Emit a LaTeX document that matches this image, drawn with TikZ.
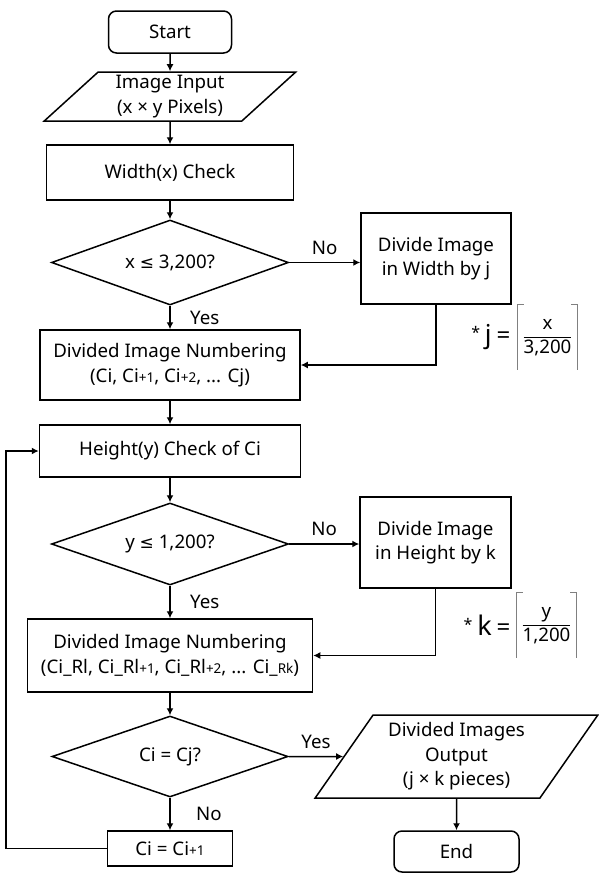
\documentclass[tikz,border=0pt]{standalone}
\usepackage{fontspec}
\setmainfont{Noto Sans}
\newfontfamily\symfont{DejaVu Sans}
\usepackage{amsmath}
\usetikzlibrary{arrows.meta,shapes.geometric,calc,positioning}
\tikzstyle{startstop} = [rectangle, rounded corners=8pt, draw=black, line width=1.5pt, inner sep=0pt, text centered]
\tikzstyle{io} = [trapezium, trapezium stretches=true, draw=black, line width=1.5pt, inner sep=0pt, align=center]
\tikzstyle{process} = [rectangle, draw=black, line width=1.5pt, inner sep=0pt, align=center]
\tikzstyle{decision} = [diamond, aspect=2.8, draw=black, line width=1.5pt, inner sep=0pt, text centered]
\tikzstyle{arrow} = [line width=1.5pt, -{Latex[length=7pt,width=7pt]}]
\tikzstyle{bracket} = [gray, line width=0.9pt]
\tikzstyle{fracbox} = [inner sep=0pt, minimum width=59pt, minimum height=65pt]
\newcommand{\smallpart}[1]{{\fontsize{13.5}{13.5}\selectfont #1}}
\newcommand{\leqsym}{{\symfont\fontsize{17}{17}\selectfont ≤}}

\begin{document}
\begin{tikzpicture}[x=1pt, y=-1pt, font=\fontsize{18.7}{24.5}\selectfont]
            \useasboundingbox (0,0) rectangle (598,873);

            % main column
            \node[startstop, minimum width=123pt, minimum height=42pt] (Start) at (170,32) {Start};
            \node[io, trapezium left angle=46, trapezium right angle=134, minimum width=252pt, minimum height=49pt] (Input) at (170,96.5) {Image Input\\(x × y Pixels)};
            \node[process, minimum width=247pt, minimum height=55pt] (WidthChk) at (170,172.5) {Width(x) Check};
            \node[decision, minimum width=237pt, minimum height=85pt] (WidthDec) at (170,262.5) {x \leqsym{} 3,200?};
            \node[process, minimum width=260pt, minimum height=70pt] (WidthNum) at (170,365) {Divided Image Numbering\\(Ci, Ci\smallpart{+1}, Ci\smallpart{+2}, ... Cj)};
            \node[process, minimum width=261pt, minimum height=52pt] (HeightChk) at (170,451) {Height(y) Check of Ci};
            \node[decision, minimum width=237pt, minimum height=82pt] (HeightDec) at (170,544) {y \leqsym{} 1,200?};
            \node[process, minimum width=285pt, minimum height=73pt] (HeightNum) at (170,655.5) {Divided Image Numbering\\(Ci\_Rl, Ci\_Rl\smallpart{+1}, Ci\_Rl\smallpart{+2}, ... Ci\_\smallpart{Rk})};
            \node[decision, minimum width=236pt, minimum height=81pt] (LastDec) at (170,756.5) {Ci = Cj?};
            \node[process, minimum width=125pt, minimum height=35pt] (Next) at (170,848.5) {Ci = Ci\smallpart{+1}};

            % right column
            \node[process, minimum width=150pt, minimum height=91pt] (DivW) at (436,258.5) {Divide Image\\in Width by j};
            \node[process, minimum width=151pt, minimum height=91pt] (DivH) at (435.5,542.5) {Divide Image\\in Height by k};
            \node[io, trapezium left angle=55, trapezium right angle=125, minimum width=283pt, minimum height=83pt] (Output) at (456.5,756.5) {Divided Images\\Output\\(j × k pieces)};
            \node[startstop, minimum width=125pt, minimum height=41pt] (End) at (456.5,851.5) {End};

            % ceiling formulas
            \node[fracbox] (JFrac) at (547.5,337.5) {$\dfrac{\text{x}}{\text{3,200}}$};
            \node[left=4pt of JFrac] (JEq) {\raisebox{5pt}{\fontsize{16}{16}\selectfont *} {\fontsize{26}{26}\selectfont j} {\fontsize{24}{24}\selectfont =}};
            \node[fracbox] (KFrac) at (546.5,625.5) {$\dfrac{\text{y}}{\text{1,200}}$};
            \node[left=3pt of KFrac] (KEq) {\raisebox{5pt}{\fontsize{16}{16}\selectfont *} {\fontsize{27}{27}\selectfont k} {\fontsize{24}{24}\selectfont =}};
            \draw[bracket] ([xshift=6pt]JFrac.north west) -- (JFrac.north west) -- (JFrac.south west);
            \draw[bracket] ([xshift=-6pt]JFrac.north east) -- (JFrac.north east) -- (JFrac.south east);
            \draw[bracket] ([xshift=6pt]KFrac.north west) -- (KFrac.north west) -- (KFrac.south west);
            \draw[bracket] ([xshift=-6pt]KFrac.north east) -- (KFrac.north east) -- (KFrac.south east);

            \coordinate (Loop) at (6,848.5);

            \draw[arrow] (Start) -- (Input);
            \draw[arrow] (Input) -- (WidthChk);
            \draw[arrow] (WidthChk) -- (WidthDec);
            \draw[arrow] (WidthDec.east) -- node[above=4pt] {No} (WidthDec.east -| DivW.west);
            \draw[arrow] (WidthDec) -- node[right=16pt] {Yes} (WidthNum);
            \draw[arrow] (DivW.south) |- (WidthNum.east);
            \draw[arrow] (WidthNum) -- (HeightChk);
            \draw[arrow] (HeightChk) -- (HeightDec);
            \draw[arrow] (HeightDec.east) -- node[above=4pt] {No} (HeightDec.east -| DivH.west);
            \draw[arrow] (HeightDec) -- node[right=16pt] {Yes} (HeightNum);
            \draw[arrow] (DivH.south) |- (HeightNum.east);
            \draw[arrow] (HeightNum) -- (LastDec);
            \draw[arrow] (LastDec) -- node[above=4pt] {Yes} (Output);
            \draw[arrow] (Output) -- (End);
            \draw[arrow] (LastDec) -- node[right=22pt] {No} (Next);
            \draw[arrow] (Next.west) -- (Loop) |- (HeightChk.west);

\end{tikzpicture}
\end{document}
